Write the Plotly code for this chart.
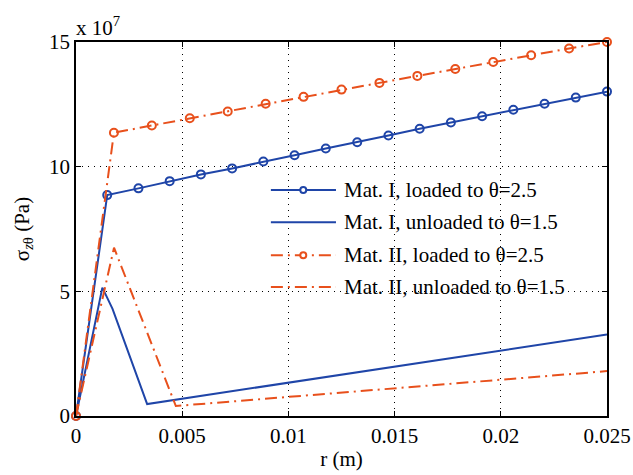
import plotly.graph_objects as go

# ---- data (stress in units of 1e7 Pa) ----
r_I_loaded = [0, 0.00147, 0.00294, 0.00441, 0.00588, 0.00735, 0.00882, 0.01029, 0.01176,
              0.01324, 0.01471, 0.01618, 0.01765, 0.01912, 0.02059, 0.02206, 0.02353, 0.025]
s_I_loaded = [0, 8.86, 9.13, 9.42, 9.69, 9.93, 10.21, 10.46, 10.73,
              10.98, 11.25, 11.52, 11.77, 12.02, 12.28, 12.52, 12.77, 13.01]

r_I_unloaded = [0, 0.00124, 0.00172, 0.00335, 0.025]
s_I_unloaded = [0, 5.15, 4.30, 0.48, 3.27]

r_II_loaded = [0, 0.001786, 0.003571, 0.005357, 0.007143, 0.008929, 0.010714, 0.0125,
               0.014286, 0.016071, 0.017857, 0.019643, 0.021429, 0.023214, 0.025]
s_II_loaded = [0, 11.36, 11.65, 11.94, 12.21, 12.52, 12.80, 13.09,
               13.36, 13.64, 13.92, 14.20, 14.47, 14.74, 15.0]

r_II_unloaded = [0, 0.00179, 0.0047, 0.025]
s_II_unloaded = [0, 6.75, 0.40, 1.80]

names = ["Mat. I, loaded to θ=2.5", "Mat. I, unloaded to θ=1.5",
         "Mat. II, loaded to θ=2.5", "Mat. II, unloaded to θ=1.5"]

x_ticks = [0, 0.005, 0.01, 0.015, 0.02, 0.025]
x_ticklabels = ["0", "0.005", "0.01", "0.015", "0.02", "0.025"]
y_ticks = [0, 5, 10, 15]

BLUE = "#1f45a8"
ORANGE = "#e8501c"
DASHDOT = "12px,5px,2px,5px"
FONT = "Liberation Serif, Times New Roman, DejaVu Serif, serif"
TFONT = dict(family=FONT, size=21, color="black")

fig = go.Figure()
fig.add_trace(go.Scatter(x=r_I_loaded, y=s_I_loaded, mode="lines+markers", name=names[0],
                         line=dict(color=BLUE, width=2), cliponaxis=False,
                         marker=dict(symbol="circle-open", size=8, color=BLUE, line=dict(width=2, color=BLUE)),
                         showlegend=False))
fig.add_trace(go.Scatter(x=r_I_unloaded, y=s_I_unloaded, mode="lines", name=names[1],
                         line=dict(color=BLUE, width=2), showlegend=False))
fig.add_trace(go.Scatter(x=r_II_loaded, y=s_II_loaded, mode="lines+markers", name=names[2],
                         line=dict(color=ORANGE, width=2, dash=DASHDOT), cliponaxis=False,
                         marker=dict(symbol="circle-open", size=8, color=ORANGE, line=dict(width=2, color=ORANGE)),
                         showlegend=False))
fig.add_trace(go.Scatter(x=r_II_unloaded, y=s_II_unloaded, mode="lines", name=names[3],
                         line=dict(color=ORANGE, width=2, dash=DASHDOT), showlegend=False))

# ---- manual legend (MATLAB-like) ----
shapes = [dict(type="rect", xref="paper", yref="paper", x0=0.35, x1=0.987, y0=0.267, y1=0.655,
               fillcolor="white", line=dict(width=0), layer="between")]
annotations = []
leg_rows = [0.604, 0.518, 0.430, 0.345]
leg_colors = [BLUE, BLUE, ORANGE, ORANGE]
leg_dash = ["solid", "solid", DASHDOT, DASHDOT]
leg_marker = [True, False, True, False]
sx0, sx1, smid, tx = 0.367, 0.4896, 0.428, 0.500
for yy, nm, c, d, m in zip(leg_rows, names, leg_colors, leg_dash, leg_marker):
    shapes.append(dict(type="line", xref="paper", yref="paper", x0=sx0, x1=sx1, y0=yy, y1=yy,
                       line=dict(color=c, width=2, dash=d), layer="above"))
    if m:
        shapes.append(dict(type="circle", xref="paper", yref="paper", xsizemode="pixel", ysizemode="pixel",
                           xanchor=smid, yanchor=yy, x0=-3, x1=3, y0=-3, y1=3,
                           fillcolor="white", line=dict(color=c, width=2), layer="above"))
    annotations.append(dict(x=tx, y=yy, xref="paper", yref="paper", text=nm, showarrow=False,
                            xanchor="left", yanchor="middle", font=TFONT))

annotations.append(dict(x=0, y=1, xref="paper", yref="paper", text="x 10<sup>7</sup>", showarrow=False,
                        xanchor="left", yanchor="bottom", yshift=0, xshift=-2, font=TFONT))

fig.update_layout(
    template="none",
    width=633, height=475,
    margin=dict(l=76, r=26, t=42, b=59, autoexpand=False),
    paper_bgcolor="white", plot_bgcolor="white",
    font=TFONT,
    shapes=shapes, annotations=annotations,
    showlegend=False,
)
fig.update_xaxes(range=[0, 0.025], tickvals=x_ticks, ticktext=x_ticklabels, automargin=False,
                 tickfont=TFONT,
                 showline=True, linecolor="black", linewidth=1.5, mirror="ticks",
                 ticks="inside", ticklen=5, tickcolor="black", tickwidth=1,
                 showgrid=True, gridcolor="black", gridwidth=1, griddash="1px,5px",
                 zeroline=False,
                 title=dict(text="r (m)", font=TFONT, standoff=4))
fig.update_yaxes(range=[0, 15], tickvals=y_ticks, automargin=False,
                 tickfont=TFONT,
                 showline=True, linecolor="black", linewidth=1.5, mirror="ticks",
                 ticks="inside", ticklen=5, tickcolor="black", tickwidth=1,
                 showgrid=True, gridcolor="black", gridwidth=1, griddash="1px,5px",
                 zeroline=False,
                 title=dict(text="σ<sub><i>z</i>θ</sub> (Pa)", font=TFONT, standoff=14))

fig.write_html("out.html")
